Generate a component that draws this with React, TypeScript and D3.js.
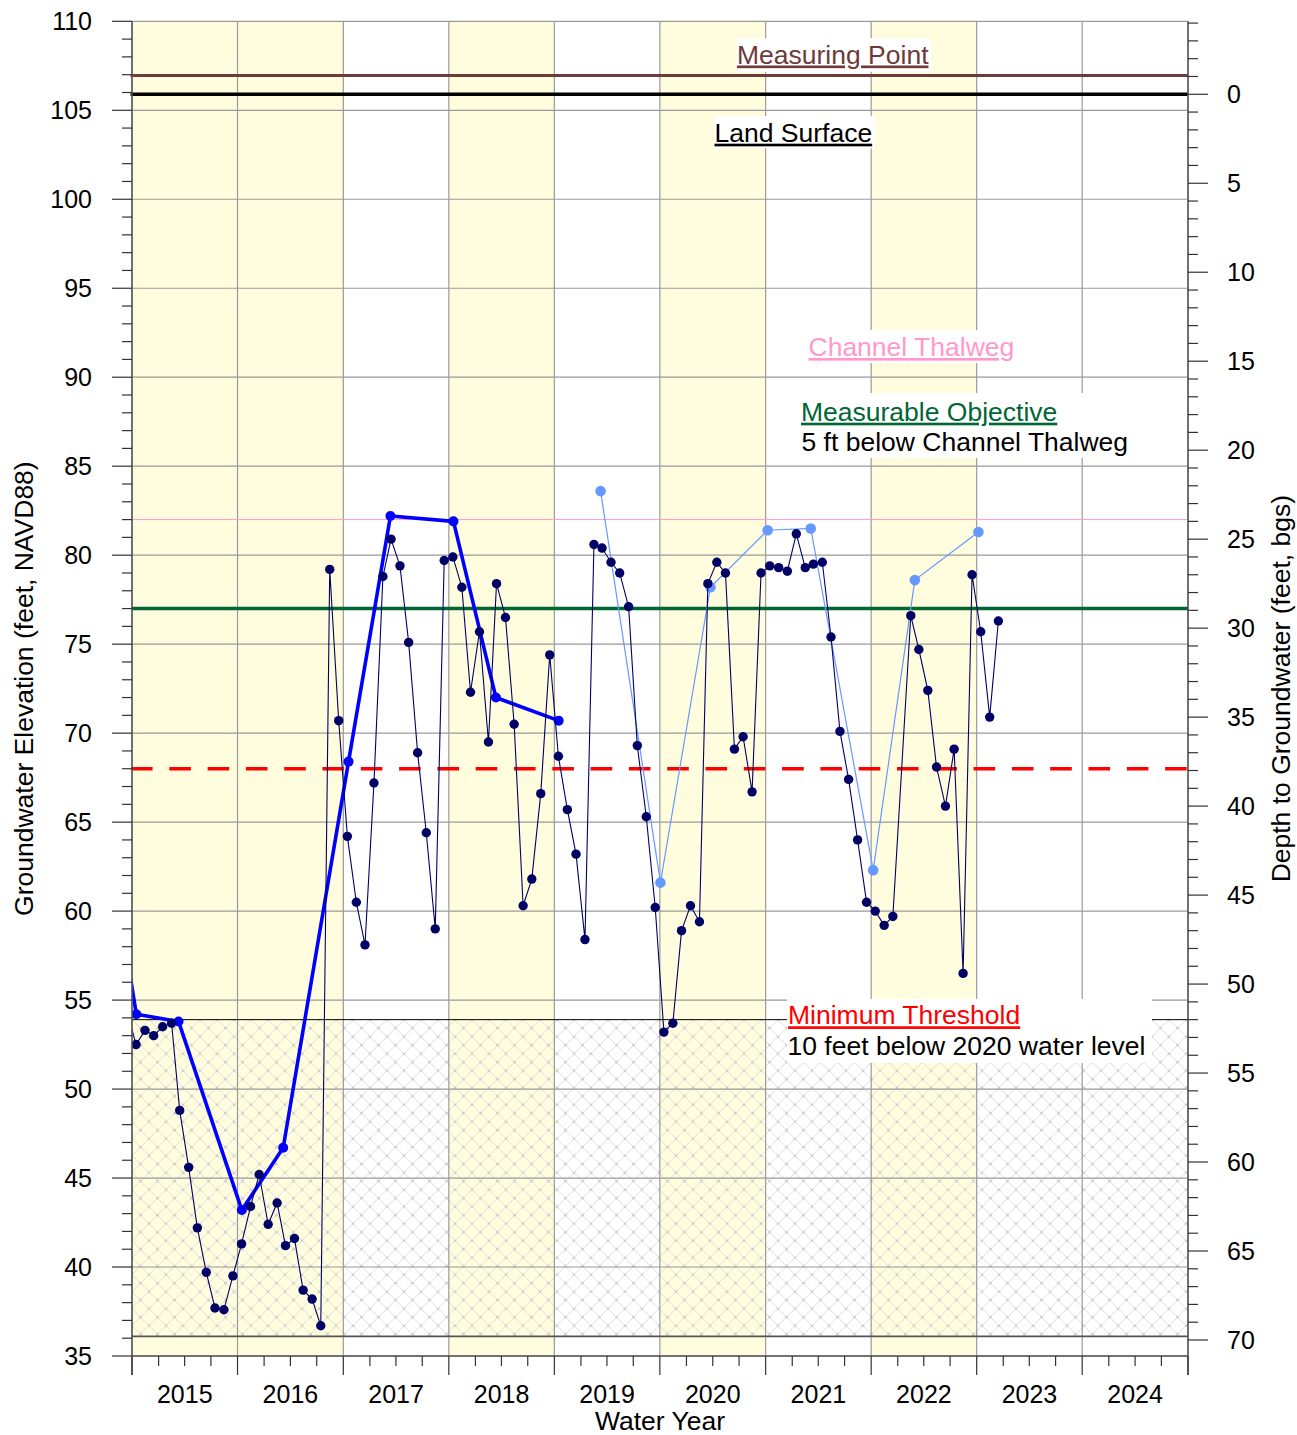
import React from "react";
import * as d3 from "d3";

// ---------- data ----------
const waterYears = [2015, 2016, 2017, 2018, 2019, 2020, 2021, 2022, 2023, 2024];
const dryYears = [2015, 2016, 2018, 2020, 2022];

// monthly groundwater elevation (feet, NAVD88)
const monthlyLevels: [string, number][] = [
  ["2014-09-15", 54.3],
  ["2014-10-15", 52.5], ["2014-11-15", 53.3], ["2014-12-15", 53.0], ["2015-01-15", 53.5],
  ["2015-02-15", 53.7], ["2015-03-15", 48.8], ["2015-04-15", 45.6], ["2015-05-15", 42.2],
  ["2015-06-15", 39.7], ["2015-07-15", 37.7], ["2015-08-15", 37.6], ["2015-09-15", 39.5],
  ["2015-10-15", 41.3], ["2015-11-15", 43.4], ["2015-12-15", 45.2], ["2016-01-15", 42.4],
  ["2016-02-15", 43.6], ["2016-03-15", 41.2], ["2016-04-15", 41.6], ["2016-05-15", 38.7],
  ["2016-06-15", 38.2], ["2016-07-15", 36.7], ["2016-08-15", 79.2], ["2016-09-15", 70.7],
  ["2016-10-15", 64.2], ["2016-11-15", 60.5], ["2016-12-15", 58.1], ["2017-01-15", 67.2],
  ["2017-02-15", 78.8], ["2017-03-15", 80.9], ["2017-04-15", 79.4], ["2017-05-15", 75.1],
  ["2017-06-15", 68.9], ["2017-07-15", 64.4], ["2017-08-15", 59.0], ["2017-09-15", 79.7],
  ["2017-10-15", 79.9], ["2017-11-15", 78.2], ["2017-12-15", 72.3], ["2018-01-15", 75.7],
  ["2018-02-15", 69.5], ["2018-03-15", 78.4], ["2018-04-15", 76.5], ["2018-05-15", 70.5],
  ["2018-06-15", 60.3], ["2018-07-15", 61.8], ["2018-08-15", 66.6], ["2018-09-15", 74.4],
  ["2018-10-15", 68.7], ["2018-11-15", 65.7], ["2018-12-15", 63.2], ["2019-01-15", 58.4],
  ["2019-02-15", 80.6], ["2019-03-15", 80.4], ["2019-04-15", 79.6], ["2019-05-15", 79.0],
  ["2019-06-15", 77.1], ["2019-07-15", 69.3], ["2019-08-15", 65.3], ["2019-09-15", 60.2],
  ["2019-10-15", 53.2], ["2019-11-15", 53.7], ["2019-12-15", 58.9], ["2020-01-15", 60.3],
  ["2020-02-15", 59.4], ["2020-03-15", 78.4], ["2020-04-15", 79.6], ["2020-05-15", 79.0],
  ["2020-06-15", 69.1], ["2020-07-15", 69.8], ["2020-08-15", 66.7], ["2020-09-15", 79.0],
  ["2020-10-15", 79.4], ["2020-11-15", 79.3], ["2020-12-15", 79.1], ["2021-01-15", 81.2],
  ["2021-02-15", 79.3], ["2021-03-15", 79.5], ["2021-04-15", 79.6], ["2021-05-15", 75.4],
  ["2021-06-15", 70.1], ["2021-07-15", 67.4], ["2021-08-15", 64.0], ["2021-09-15", 60.5],
  ["2021-10-15", 60.0], ["2021-11-15", 59.2], ["2021-12-15", 59.7], ["2022-02-15", 76.6],
  ["2022-03-15", 74.7], ["2022-04-15", 72.4], ["2022-05-15", 68.1], ["2022-06-15", 65.9],
  ["2022-07-15", 69.1], ["2022-08-15", 56.5], ["2022-09-15", 78.9], ["2022-10-15", 75.7],
  ["2022-11-15", 70.9], ["2022-12-15", 76.3],
];

// spring / fall measurements, early period
const seasonalEarly: [string, number][] = [
  ["2014-03-12", 76.3], ["2014-10-16", 54.2], ["2015-03-11", 53.8], ["2015-10-16", 43.2],
  ["2016-03-07", 46.7], ["2016-10-19", 68.4], ["2017-03-13", 82.2], ["2017-10-17", 81.9],
  ["2018-03-13", 72.0], ["2018-10-16", 70.7],
];

// spring / fall measurements, later period
const seasonalLate: [string, number][] = [
  ["2019-03-10", 83.6], ["2019-10-03", 61.6], ["2020-03-24", 78.2], ["2020-10-08", 81.4],
  ["2021-03-06", 81.5], ["2021-10-08", 62.3], ["2022-03-01", 78.6], ["2022-10-07", 81.3],
];

const landSurface = 105.9;
const measuringPoint = 106.95;
const channelThalweg = 82;
const measurableObjective = 77;
const minimumThreshold = 68;
const hatchTop = 53.9;
const hatchBottom = 36.1;

const elevationTicks = [35, 40, 45, 50, 55, 60, 65, 70, 75, 80, 85, 90, 95, 100, 105, 110];
const depthTicks = [0, 5, 10, 15, 20, 25, 30, 35, 40, 45, 50, 55, 60, 65, 70];

// ---------- chart ----------
const FONT = "'Liberation Sans', Arial, Helvetica, sans-serif";

export default function App() {
  const W = 1297, H = 1435;
  const L = 132, R = 1188, T = 21.3, B = 1356;
  const parse = d3.timeParse("%Y-%m-%d");
  const wyStart = (wy: number) => new Date(wy - 1, 9, 1);

  const x = d3.scaleTime().domain([wyStart(2015), wyStart(2025)]).range([L, R]);
  const y = d3.scaleLinear().domain([35, 110]).range([B, T]);
  const yD = d3.scaleLinear().domain([landSurface - 35, landSurface - 110]).range([B, T]);

  const line = d3.line<[string, number]>().x(d => x(parse(d[0]) as Date)).y(d => y(d[1]));

  const minorElev = d3.range(35, 111, 1).filter(v => v % 5 !== 0);
  const minorDepth = d3.range(-4, 71, 1).filter(v => v % 5 !== 0);
  const xMinor: Date[] = [];
  waterYears.forEach(wy => {
    xMinor.push(new Date(wy, 0, 1), new Date(wy, 3, 1), new Date(wy, 6, 1));
  });
  const boundaries = [...waterYears.map(wyStart), wyStart(2025)];

  const gridColor = "#9a9a9a";
  const axisColor = "#555";
  const tickColor = "#333";

  return (
    <svg width={W} height={H} style={{ position: "absolute", left: 0, top: 0, background: "#fff", display: "block" }}
      fontFamily={FONT}>
      <defs>
        <clipPath id="plot">
          <rect x={L} y={T} width={R - L} height={B - T} />
        </clipPath>
        <pattern id="hatch" patternUnits="userSpaceOnUse" width={17} height={17} x={L} y={y(hatchTop)}>
          <line x1={0} y1={0} x2={17} y2={17} stroke="#dedede" strokeWidth={1} />
          <line x1={17} y1={0} x2={0} y2={17} stroke="#dedede" strokeWidth={1} />
          <circle cx={8.5} cy={8.5} r={1.3} fill="#cacaca" />
          <circle cx={0} cy={0} r={1.3} fill="#cacaca" />
          <circle cx={17} cy={0} r={1.3} fill="#cacaca" />
          <circle cx={0} cy={17} r={1.3} fill="#cacaca" />
          <circle cx={17} cy={17} r={1.3} fill="#cacaca" />
        </pattern>
      </defs>

      <rect x={0} y={0} width={W} height={H} fill="#fff" />

      {/* dry-year shading */}
      {dryYears.map(wy => (
        <rect key={wy} x={x(wyStart(wy))} y={T} width={x(wyStart(wy + 1)) - x(wyStart(wy))} height={B - T} fill="#fffddd" />
      ))}

      {/* hatched zone */}
      <rect x={L} y={y(hatchTop)} width={R - L} height={y(hatchBottom) - y(hatchTop)} fill="url(#hatch)" />

      {/* grid */}
      {elevationTicks.map(v => (
        <line key={"gy" + v} x1={L} x2={R} y1={y(v)} y2={y(v)} stroke={gridColor} strokeWidth={1.2} />
      ))}
      {boundaries.map((d, i) => (
        <line key={"gx" + i} x1={x(d)} x2={x(d)} y1={T} y2={B} stroke={gridColor} strokeWidth={1.2} />
      ))}

      {/* hatch bounds */}
      <line x1={L} x2={R} y1={y(hatchTop)} y2={y(hatchTop)} stroke="#000" strokeWidth={1} />
      <line x1={L} x2={R} y1={y(hatchBottom)} y2={y(hatchBottom)} stroke="#555" strokeWidth={1.6} />

      {/* reference lines */}
      <line x1={L - 1.5} x2={R} y1={y(measuringPoint)} y2={y(measuringPoint)} stroke="#6e3a3a" strokeWidth={3} />
      <line x1={L - 1.5} x2={R} y1={y(landSurface)} y2={y(landSurface)} stroke="#000" strokeWidth={3.3} />
      <line x1={L} x2={R} y1={y(channelThalweg)} y2={y(channelThalweg)} stroke="#ff99cc" strokeWidth={1} />
      <line x1={L} x2={R} y1={y(measurableObjective)} y2={y(measurableObjective)} stroke="#006633" strokeWidth={3.5} />
      <line x1={L - 1} x2={R} y1={y(minimumThreshold)} y2={y(minimumThreshold)} stroke="#ff0000" strokeWidth={3.5}
        strokeDasharray="21.6 16.7" />

      {/* label boxes */}
      <rect x={736.7} y={38.3} width={194.3} height={33.4} fill="#fff" />
      <rect x={714.3} y={116} width={161} height={32.3} fill="#fff" />
      <rect x={806} y={330} width={214} height={33} fill="#fff" />
      <rect x={799} y={393} width={336} height={65} fill="#fff" />
      <rect x={787} y={999} width={365} height={64} fill="#fff" />

      <g fontSize={26.5}>
        <text x={737} y={63.5} fill="#6e3a3a" style={{ textDecoration: "underline" }}>Measuring Point</text>
        <text x={714.5} y={141.7} fill="#000" style={{ textDecoration: "underline" }}>Land Surface</text>
        <text x={808.5} y={356} fill="#ff99cc" style={{ textDecoration: "underline" }}>Channel Thalweg</text>
        <text x={801} y={420.7} fill="#006633" style={{ textDecoration: "underline" }}>Measurable Objective</text>
        <text x={801.5} y={450.7} fill="#000">5 ft below Channel Thalweg</text>
        <text x={788} y={1024.3} fill="#ff0000" style={{ textDecoration: "underline" }}>Minimum Threshold</text>
        <text x={787.5} y={1055} fill="#000">10 feet below 2020 water level</text>
      </g>

      {/* data */}
      <g clipPath="url(#plot)">
        <path d={line(seasonalEarly) || ""} fill="none" stroke="#0000ff" strokeWidth={3.6} strokeLinejoin="round" />
        {seasonalEarly.map((d, i) => (
          <circle key={"se" + i} cx={x(parse(d[0]) as Date)} cy={y(d[1])} r={5} fill="#0000ff" />
        ))}
        <path d={line(seasonalLate) || ""} fill="none" stroke="#6699ff" strokeWidth={1.2} />
        {seasonalLate.map((d, i) => (
          <circle key={"sl" + i} cx={x(parse(d[0]) as Date)} cy={y(d[1])} r={5.3} fill="#6699ff" />
        ))}
        <path d={line(monthlyLevels) || ""} fill="none" stroke="#000066" strokeWidth={1.1} />
        {monthlyLevels.map((d, i) => (
          <circle key={"m" + i} cx={x(parse(d[0]) as Date)} cy={y(d[1])} r={4.7} fill="#000066" />
        ))}
      </g>

      {/* left axis */}
      <line x1={L} x2={L} y1={T} y2={B + 19} stroke={axisColor} strokeWidth={1.5} />
      {elevationTicks.map(v => (
        <g key={"lt" + v}>
          <line x1={L - 20} x2={L} y1={y(v)} y2={y(v)} stroke={tickColor} strokeWidth={1.2} />
          <text x={92} y={y(v)} dy="0.36em" textAnchor="end" fontSize={25} fill="#000">{v}</text>
        </g>
      ))}
      {minorElev.map(v => (
        <line key={"lm" + v} x1={L - 10} x2={L} y1={y(v)} y2={y(v)} stroke={tickColor} strokeWidth={1.2} />
      ))}

      {/* right axis */}
      <line x1={R} x2={R} y1={T} y2={B + 19} stroke={axisColor} strokeWidth={1.5} />
      {depthTicks.map(v => (
        <g key={"rt" + v}>
          <line x1={R} x2={R + 20} y1={yD(v)} y2={yD(v)} stroke={tickColor} strokeWidth={1.2} />
          <text x={1227} y={yD(v)} dy="0.36em" textAnchor="start" fontSize={25} fill="#000">{v}</text>
        </g>
      ))}
      {minorDepth.map(v => (
        <line key={"rm" + v} x1={R} x2={R + 10} y1={yD(v)} y2={yD(v)} stroke={tickColor} strokeWidth={1.2} />
      ))}

      {/* bottom axis */}
      <line x1={L} x2={R} y1={B} y2={B} stroke={axisColor} strokeWidth={1.5} />
      {boundaries.map((d, i) => (
        <line key={"bt" + i} x1={x(d)} x2={x(d)} y1={B} y2={B + 19} stroke={tickColor} strokeWidth={1.2} />
      ))}
      {xMinor.map((d, i) => (
        <line key={"bm" + i} x1={x(d)} x2={x(d)} y1={B} y2={B + 10} stroke={tickColor} strokeWidth={1.2} />
      ))}
      {waterYears.map(wy => (
        <text key={"xl" + wy} x={(x(wyStart(wy)) + x(wyStart(wy + 1))) / 2} y={1402.5} textAnchor="middle" fontSize={25} fill="#000">
          {wy}
        </text>
      ))}

      {/* axis titles */}
      <text x={(L + R) / 2} y={1429.5} textAnchor="middle" fontSize={26.5} fill="#000">Water Year</text>
      <text transform={`translate(33, ${(T + B) / 2}) rotate(-90)`} textAnchor="middle" fontSize={26.5} fill="#000">
        Groundwater Elevation (feet, NAVD88)
      </text>
      <text transform={`translate(1290, ${(T + B) / 2}) rotate(-90)`} textAnchor="middle" fontSize={26.5} fill="#000">
        Depth to Groundwater (feet, bgs)
      </text>
    </svg>
  );
}
